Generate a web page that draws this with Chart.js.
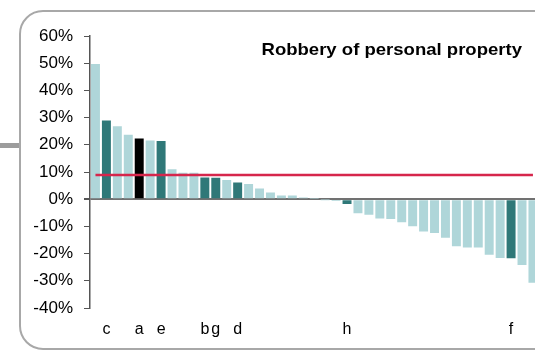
<!DOCTYPE html>
<html>
<head>
<meta charset="utf-8">
<script src="https://cdn.jsdelivr.net/npm/chart.js@4"></script>
<style>
  html, body { margin: 0; padding: 0; background: #fff; overflow: hidden; }
  #wrap { position: relative; width: 535px; height: 350px; overflow: hidden; }
  #caja { position: absolute; left: 19px; top: 10px; width: 560px; height: 336px;
          border: 2px solid #a8a8a8; border-radius: 24px; }
  #tope { position: absolute; left: 0; top: 143px; width: 19px; height: 5px; background: #9c9c9c; }
  #grafico { position: absolute; left: 0; top: 0; }
</style>
</head>
<body>
<div id="wrap">
  <div id="tope"></div>
  <div id="caja"></div>
  <canvas id="grafico" width="545" height="350"></canvas>
</div>
<script>
// categorias (solo las resaltadas llevan letra)
const categorias = ['', 'c', '', '', 'a', '', 'e', '', '', '', 'b', 'g', '', 'd', '', '', '', '', '', '', '',
  '', '', 'h', '', '', '', '', '', '', '', '', '', '', '', '', '', '', 'f', '', ''];

// variacion por area (%)
const valores = [49.7, 28.9, 26.8, 23.7, 22.3, 21.6, 21.4, 11.0, 9.7, 9.7, 8.0, 7.9, 7.1, 6.1, 5.6, 3.9, 2.5,
  1.4, 1.4, 0.6, 0.2, -0.1, -0.7, -1.8, -5.2, -5.7, -7.1, -7.3, -8.5, -9.9, -11.9, -12.4, -14.2, -17.3,
  -17.8, -17.8, -20.4, -21.6, -21.7, -24.2, -30.7];

// media nacional
const promedio = 8.9;

const ticksY = [60, 50, 40, 30, 20, 10, 0, -10, -20, -30, -40];

const titulo = 'Robbery of personal property';

const colores = categorias.map(c => c === 'a' ? '#000000' : (c !== '' ? '#2f7878' : '#afd6d9'));

const tituloPlugin = {
  id: 'tituloDentro',
  afterDraw(chart) {
    const ctx = chart.ctx;
    ctx.save();
    ctx.font = 'bold 17px "Liberation Sans", Arial, sans-serif';
    ctx.fillStyle = '#000';
    ctx.textAlign = 'right';
    ctx.textBaseline = 'alphabetic';
    ctx.translate(522, 55);
    ctx.scale(1.09, 1);
    ctx.fillText(titulo, 0, 0);
    ctx.restore();
  }
};

const ctx = document.getElementById('grafico').getContext('2d');
new Chart(ctx, {
  type: 'bar',
  data: {
    labels: categorias,
    datasets: [{
      type: 'line',
      data: categorias.map(() => promedio),
      borderColor: '#d6264c',
      borderWidth: 2.5,
      pointRadius: 0,
      order: 0
    }, {
      data: valores,
      backgroundColor: colores,
      barPercentage: 0.82,
      categoryPercentage: 1,
      order: 1
    }]
  },
  options: {
    responsive: false,
    animation: false,
    layout: { padding: { left: 33, top: 36, right: 4, bottom: 11 } },
    plugins: {
      legend: { display: false },
      tooltip: { enabled: false }
    },
    scales: {
      x: {
        afterFit(scale) { scale.height = 31; },
        grid: { display: false, drawTicks: false },
        border: { display: false },
        ticks: {
          autoSkip: false,
          maxRotation: 0,
          padding: 12,
          color: '#000',
          font: { family: '"Liberation Sans", Arial, sans-serif', size: 16 }
        }
      },
      y: {
        min: -40,
        max: 60,
        afterFit(scale) { scale.width = 57; },
        afterBuildTicks(scale) { scale.ticks = ticksY.map(v => ({ value: v })); },
        grid: {
          drawOnChartArea: true,
          tickLength: 6,
          tickColor: '#555',
          color: c => c.tick && c.tick.value === 0 ? '#717171' : 'rgba(0,0,0,0)',
          lineWidth: c => c.tick && c.tick.value === 0 ? 2 : 1
        },
        border: { display: true, color: '#555', width: 1.5 },
        ticks: {
          padding: 11,
          color: '#000',
          font: { family: '"Liberation Sans", Arial, sans-serif', size: 17 },
          callback: v => v + '%'
        }
      }
    }
  },
  plugins: [tituloPlugin]
});
</script>
</body>
</html>
